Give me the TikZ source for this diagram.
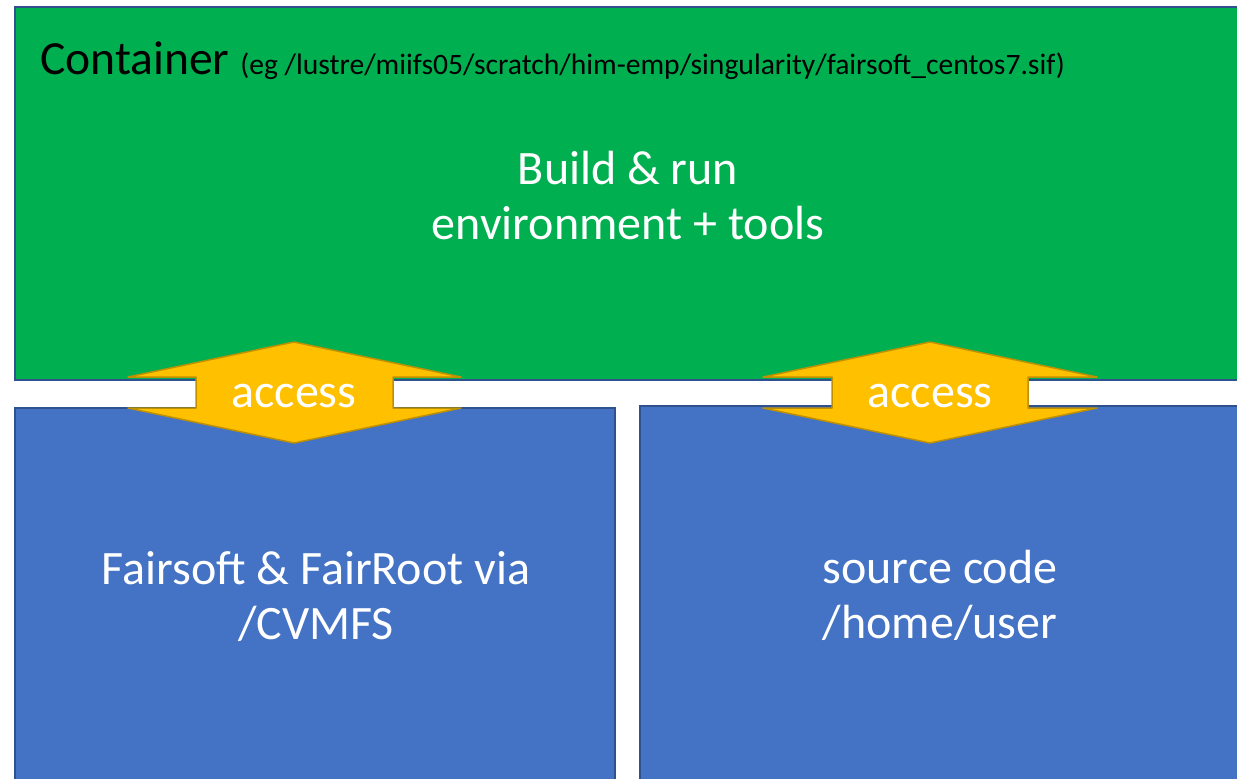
\documentclass[tikz,border=0pt]{standalone}
\usepackage{fontspec}
\setmainfont{Carlito}
\definecolor{cgreen}{HTML}{00B050}
\definecolor{cblue}{HTML}{4472C4}
\definecolor{cborder}{HTML}{2F528F}
\definecolor{cgold}{HTML}{FFC000}
\definecolor{cgoldb}{HTML}{BF9000}
\begin{document}
\begin{tikzpicture}[x=1pt,y=-1pt,
  box/.style={draw=cborder,line width=1.6pt},
  arrowshape/.style={fill=cgold,draw=cgoldb,line width=1.5pt,line join=round},
  bigtext/.style={text=white,font=\fontsize{48}{55}\selectfont,align=center,inner sep=0pt},
  acctext/.style={text=white,font=\fontsize{48}{55}\selectfont,inner sep=0pt}]
\useasboundingbox (0,0) rectangle (1237,779);
\clip (0,0) rectangle (1237,779);
% boxes
\draw[box,fill=cgreen] (15,7) rectangle (1260,380);
\draw[box,fill=cblue] (15,408) rectangle (615,800);
\draw[box,fill=cblue] (640,406) rectangle (1260,800);
% texts
\node[anchor=base west,inner sep=0pt,font=\fontsize{47.6}{55}\selectfont] (title) at (40,74)
  {Container {\fontsize{29.6}{34}\selectfont (eg /lustre/miifs05/scratch/him-emp/singularity/fairsoft\_centos7.sif)}};
\node[bigtext] (env) at (628,196) {Build \& run\\environment + tools};
\node[bigtext] (fair) at (316,597) {Fairsoft \& FairRoot via\\/CVMFS};
\node[bigtext] (src) at (940,595) {source code\\/home/user};
% arrows
\draw[arrowshape] (294,342) -- (461,377) -- (393,377) -- (393,408) -- (461,408) -- (294,443)
  -- (128,408) -- (196,408) -- (196,377) -- (128,377) -- cycle;
\draw[arrowshape] (930,342) -- (1097,377) -- (1028,377) -- (1028,408) -- (1097,408) -- (930,443)
  -- (763,408) -- (832,408) -- (832,377) -- (763,377) -- cycle;
\node[acctext] (acc1) at (294,396) {access};
\node[acctext] (acc2) at (930,396) {access};
\end{tikzpicture}
\end{document}
